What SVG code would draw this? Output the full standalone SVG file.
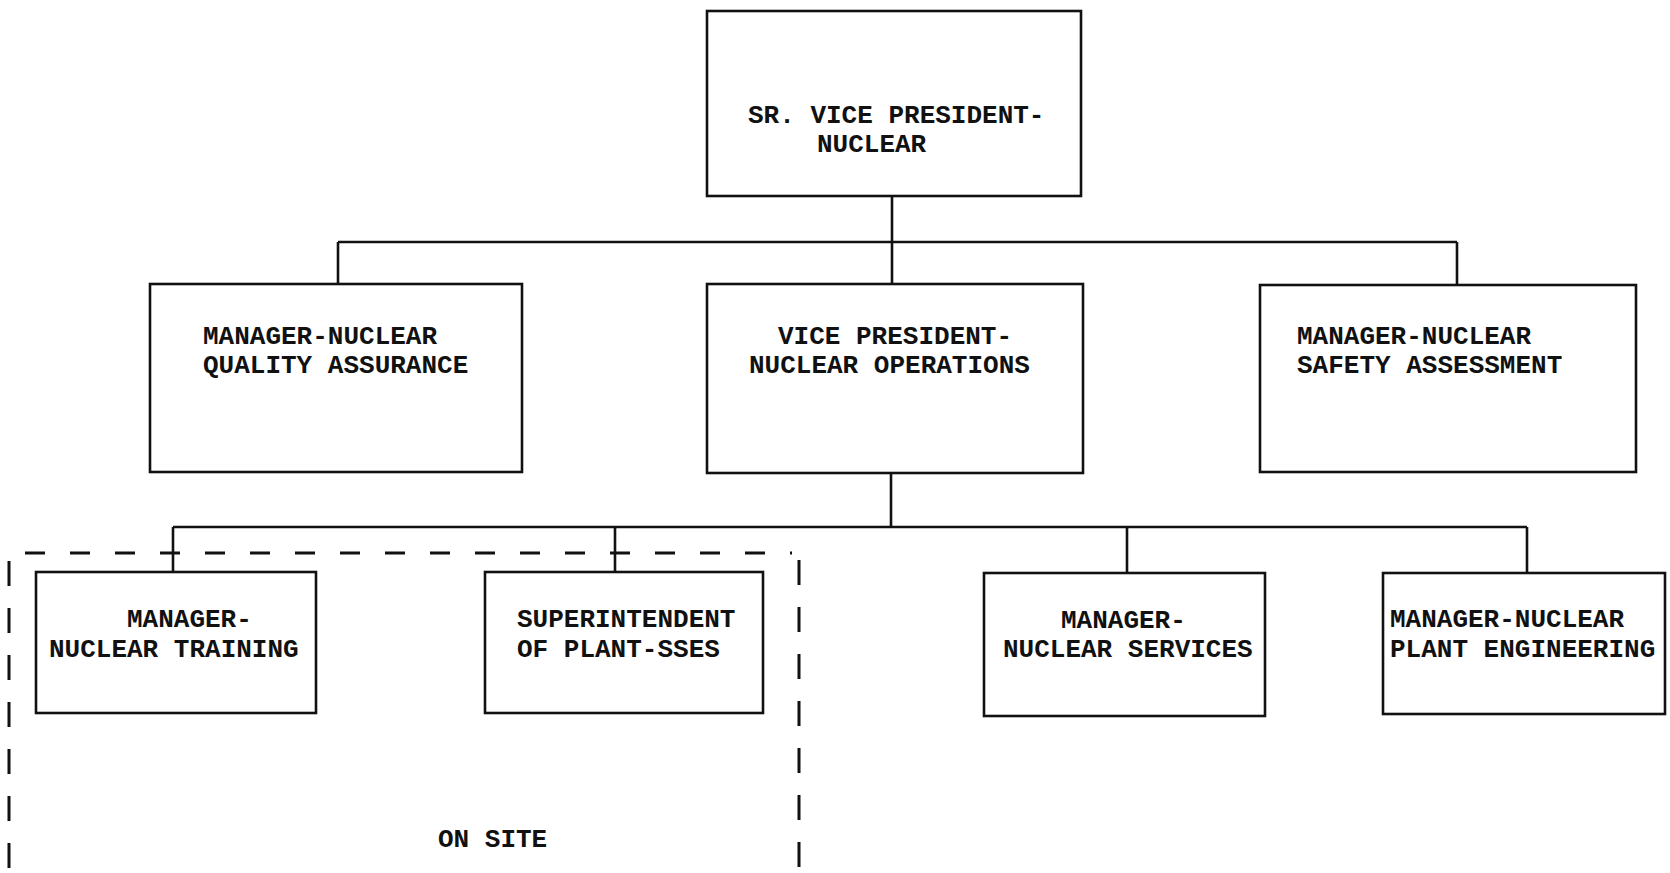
<svg xmlns="http://www.w3.org/2000/svg" width="1670" height="873" viewBox="0 0 1670 873">
<style>
.box{fill:#fff;stroke:#111;stroke-width:2.6}
.ln{fill:none;stroke:#111;stroke-width:2.6}
.dash{fill:none;stroke:#111;stroke-width:3;stroke-dasharray:20 25}
.dashv{fill:none;stroke:#111;stroke-width:3;stroke-dasharray:25 22}
text{font-family:"Liberation Mono","Courier New",monospace;font-weight:bold;font-size:26px;fill:#111}
</style>
<rect width="1670" height="873" fill="#fff"/>
<g id="connectors">
<path class="ln" d="M892 196 V284"/>
<path class="ln" d="M338 242 H1457"/>
<path class="ln" d="M338 242 V284"/>
<path class="ln" d="M1457 242 V284"/>
<path class="ln" d="M891 473 V527"/>
<path class="ln" d="M173 527 H1527"/>
<path class="ln" d="M173 527 V572"/>
<path class="ln" d="M615 527 V572"/>
<path class="ln" d="M1127 527 V573"/>
<path class="ln" d="M1527 527 V573"/>
</g>
<g id="onsite">
<path class="dash" d="M25 553 H792"/>
<path class="dashv" d="M9 561 V873"/>
<path class="dashv" d="M799 560 V873"/>
<text x="438" y="847">ON SITE</text>
</g>
<g id="sr-vp">
<rect class="box" x="707" y="11" width="374" height="185"/>
<text x="748" y="123">SR. VICE PRESIDENT-</text>
<text x="817" y="152">NUCLEAR</text>
</g>
<g id="qa">
<rect class="box" x="150" y="284" width="372" height="188"/>
<text x="203" y="344">MANAGER-NUCLEAR</text>
<text x="203" y="373">QUALITY ASSURANCE</text>
</g>
<g id="vp-ops">
<rect class="box" x="707" y="284" width="376" height="189"/>
<text x="778" y="344">VICE PRESIDENT-</text>
<text x="749" y="373">NUCLEAR OPERATIONS</text>
</g>
<g id="safety">
<rect class="box" x="1260" y="285" width="376" height="187"/>
<text x="1297" y="344">MANAGER-NUCLEAR</text>
<text x="1297" y="373">SAFETY ASSESSMENT</text>
</g>
<g id="training">
<rect class="box" x="36" y="572" width="280" height="141"/>
<text x="127" y="627">MANAGER-</text>
<text x="49" y="657">NUCLEAR TRAINING</text>
</g>
<g id="superintendent">
<rect class="box" x="485" y="572" width="278" height="141"/>
<text x="517" y="627">SUPERINTENDENT</text>
<text x="517" y="657">OF PLANT-SSES</text>
</g>
<g id="services">
<rect class="box" x="984" y="573" width="281" height="143"/>
<text x="1061" y="628">MANAGER-</text>
<text x="1003" y="657">NUCLEAR SERVICES</text>
</g>
<g id="plant-eng">
<rect class="box" x="1383" y="573" width="282" height="141"/>
<text x="1390" y="627">MANAGER-NUCLEAR</text>
<text x="1390" y="657">PLANT ENGINEERING</text>
</g>
</svg>
